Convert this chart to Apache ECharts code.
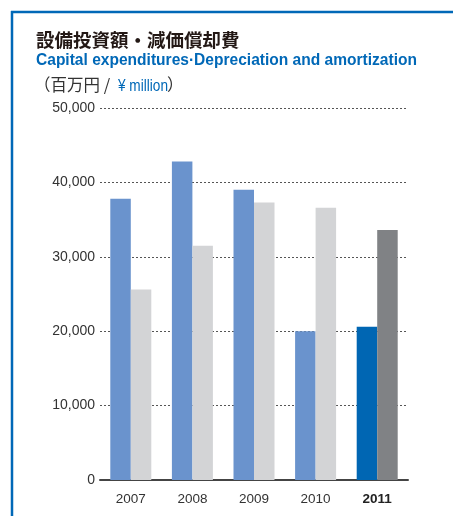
<!DOCTYPE html>
<html><head><meta charset="utf-8">
<script src="https://cdn.jsdelivr.net/npm/echarts@6/dist/echarts.min.js"></script>
<style>html,body{margin:0;padding:0;background:#fff}#c{width:453px;height:516px}</style>
</head><body><div id="c"></div>
<script>
const years = ['2007','2008','2009','2010','2011'];
const capex = [37800, 42800, 39000, 20000, 20600];
const depreciation = [25600, 31500, 37300, 36600, 33600];
const yTicks = [0, 10000, 20000, 30000, 40000, 50000];

const titleJa = '設備投資額・減価償却費';
const titleEn = 'Capital expenditures·Depreciation and amortization';
const unitJa = '（百万円 /';
const unitEn = '¥ million';
const unitClose = '）';

const capexColor = '#6A93CD', capexHi = '#0066B3';
const depColor = '#D3D4D6', depHi = '#808285';
const blue = '#0068B7';
const last = years.length - 1;

const ctx = document.createElement('canvas').getContext('2d');
function measure(txt, font) { ctx.font = font; return ctx.measureText(txt).width; }
const enFont = 'bold 17px "Liberation Sans"';
const enScale = 381 / measure(titleEn, enFont);
const unitEnFont = '16.5px "Liberation Sans"';
const unitEnScale = 50 / measure(unitEn, unitEnFont);

const chart = echarts.init(document.getElementById('c'));
chart.setOption({
  animation: false,
  backgroundColor: '#fff',
  graphic: [
    { type: 'line', shape: { x1: 11, y1: 12, x2: 453, y2: 12 }, style: { stroke: blue, lineWidth: 2.5 } },
    { type: 'line', shape: { x1: 12, y1: 11, x2: 12, y2: 516 }, style: { stroke: blue, lineWidth: 2.5 } },
    { type: 'text', x: 36, y: 40, style: { text: titleJa, font: 'bold 18.5px "Noto Sans CJK JP"', fill: '#231815', textVerticalAlign: 'middle' } },
    { type: 'text', x: 36, y: 60, scaleX: enScale, style: { text: titleEn, font: enFont, fill: blue, textVerticalAlign: 'middle' } },
    { type: 'text', x: 34, y: 85, style: { text: unitJa, font: '16.5px "Noto Sans CJK JP"', fill: '#333', textVerticalAlign: 'middle' } },
    { type: 'text', x: 118, y: 86, scaleX: unitEnScale, style: { text: unitEn, font: unitEnFont, fill: blue, textVerticalAlign: 'middle' } },
    { type: 'text', x: 167, y: 85, style: { text: unitClose, font: '16.5px "Noto Sans CJK JP"', fill: '#333', textVerticalAlign: 'middle' } }
  ],
  grid: { left: 100, right: 45, top: 108, bottom: 36 },
  xAxis: {
    type: 'category', data: years,
    axisLine: { lineStyle: { color: '#444', width: 2 } },
    axisTick: { show: false },
    axisLabel: { interval: 0, hideOverlap: false, fontFamily: 'Liberation Sans', fontSize: 13.5, color: '#333', margin: 12,
      formatter: (v) => v === years[last] ? '{b|' + v + '}' : v,
      rich: { b: { fontFamily: 'Liberation Sans', fontSize: 13.5, fontWeight: 'bold', color: '#222' } } }
  },
  yAxis: {
    type: 'value', min: yTicks[0], max: yTicks[yTicks.length - 1], interval: yTicks[1] - yTicks[0],
    axisLine: { show: false }, axisTick: { show: false },
    axisLabel: { fontFamily: 'Liberation Sans', fontSize: 14, color: '#333', margin: 5,
      formatter: (v) => v.toLocaleString('en-US') },
    splitLine: { lineStyle: { type: [2, 2], color: '#555', width: 1 } }
  },
  series: [
    { type: 'bar', barWidth: 20.5, barGap: '0%',
      data: capex.map((v, i) => ({ value: v, itemStyle: { color: i === last ? capexHi : capexColor } })) },
    { type: 'bar', barWidth: 20.5, barGap: '0%',
      data: depreciation.map((v, i) => ({ value: v, itemStyle: { color: i === last ? depHi : depColor } })) }
  ]
});
</script></body></html>
